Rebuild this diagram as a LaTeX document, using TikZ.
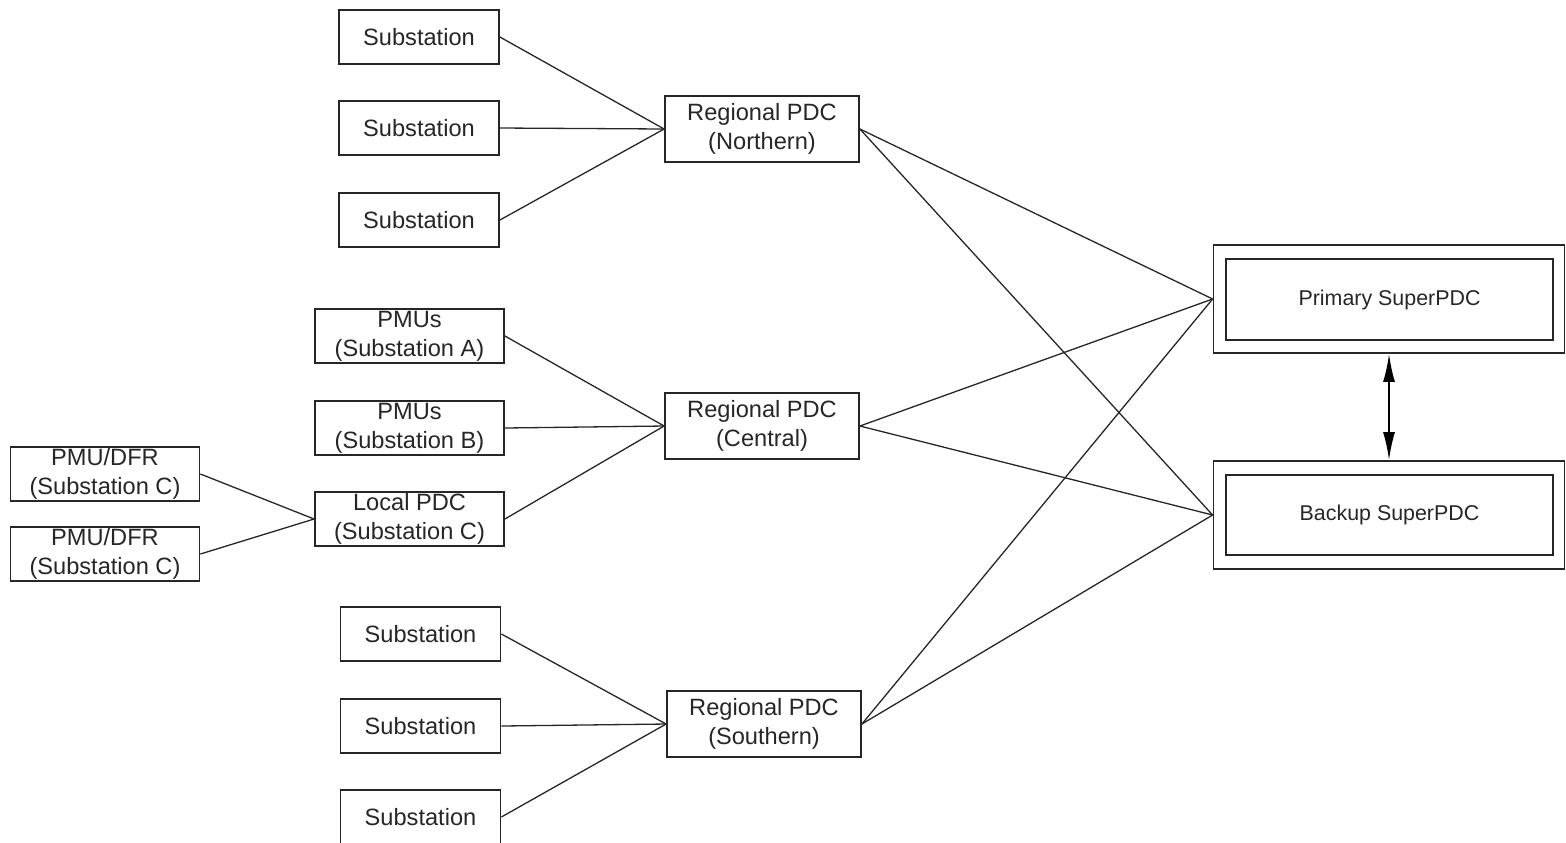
\documentclass[tikz,border=0pt]{standalone}
\usepackage{fontspec}
\setmainfont{Liberation Sans}
\usetikzlibrary{arrows.meta}
\begin{document}
\begin{tikzpicture}[x=0.5pt,y=-0.5pt,
  box/.style={draw=black!85,line width=0.9pt,inner sep=0pt,align=center,text=black!85,
    font=\fontsize{11.8}{14.5}\selectfont},
  subbox/.style={box,minimum width=80pt,minimum height=27pt},
  pmubox/.style={box,minimum width=94.5pt,minimum height=27pt},
  regbox/.style={box,minimum width=97pt,minimum height=33pt},
  outerbox/.style={draw=black!85,line width=0.9pt,inner sep=0pt,minimum width=175.5pt,minimum height=54pt},
  innerbox/.style={box,minimum width=163.5pt,minimum height=40.5pt,font=\fontsize{10.7}{13}\selectfont},
  link/.style={draw=black!85,line width=0.65pt},
  biarrow/.style={{Latex[length=14pt,width=6pt]}-{Latex[length=14pt,width=6pt]}}]
\useasboundingbox (0,0) rectangle (1566,842);
\clip (0,0) rectangle (1566,842);
% northern
\node[subbox] (s1) at (419,37) {Substation};
\node[subbox] (s2) at (419,128) {Substation};
\node[subbox] (s3) at (419,220) {Substation};
\node[regbox] (rn) at (762,129) {Regional PDC\\(Northern)};
% central
\node[pmubox] (pa) at (409.5,336) {PMUs\\(Substation A)};
\node[pmubox] (pb) at (409.5,428) {PMUs\\(Substation B)};
\node[pmubox] (lp) at (409.5,519) {Local PDC\\(Substation C)};
\node[pmubox] (d1) at (105,474) {PMU/DFR\\(Substation C)};
\node[pmubox] (d2) at (105,554) {PMU/DFR\\(Substation C)};
\node[regbox] (rc) at (762,426) {Regional PDC\\(Central)};
% southern
\node[subbox] (s4) at (420.5,634) {Substation};
\node[subbox] (s5) at (420.5,726) {Substation};
\node[subbox] (s6) at (420.5,817) {Substation};
\node[regbox] (rs) at (764,724) {Regional PDC\\(Southern)};
% super PDCs
\node[outerbox] (pp) at (1389,299) {};
\node[innerbox] (ppi) at (1389.5,299.5) {Primary SuperPDC};
\node[outerbox] (bp) at (1389,515) {};
\node[innerbox,minimum height=40pt] (bpi) at (1389.5,515) {Backup SuperPDC};
% connectors
\draw[link] (s1.east) -- (rn.west);
\draw[link] (s2.east) -- (rn.west);
\draw[link] (s3.east) -- (rn.west);
\draw[link] (pa.east) -- (rc.west);
\draw[link] (pb.east) -- (rc.west);
\draw[link] (lp.east) -- (rc.west);
\draw[link] (d1.east) -- (lp.west);
\draw[link] (d2.east) -- (lp.west);
\draw[link] (s4.east) -- (rs.west);
\draw[link] (s5.east) -- (rs.west);
\draw[link] (s6.east) -- (rs.west);
\foreach \r in {rn,rc,rs}{
  \draw[link] (\r.east) -- (pp.west);
  \draw[link] (\r.east) -- (bp.west);
}
\draw[link,line width=1pt,draw=black,biarrow] (pp.south) -- (bp.north);
\end{tikzpicture}
\end{document}
